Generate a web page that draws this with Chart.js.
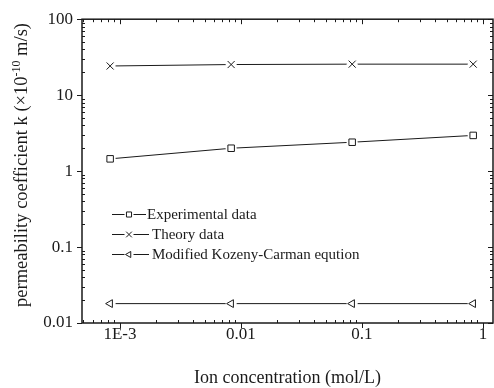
<!DOCTYPE html>
<html>
<head>
<meta charset="utf-8">
<script src="https://cdn.jsdelivr.net/npm/chart.js@4.4.1/dist/chart.umd.min.js"></script>
<style>
  html, body { margin: 0; padding: 0; background: #fff; }
  #wrap { width: 494px; height: 388px; position: relative; }
</style>
</head>
<body>
<div id="wrap"><canvas id="chart" width="494" height="388"></canvas></div>
<script>
// ion concentration (mol/L) and permeability coefficient k (x1e-10 m/s)
const concentration = [0.00083, 0.0083, 0.083, 0.83];
const experimental = [1.45, 2.0, 2.4, 2.95];
const theory = [24.2, 25.3, 25.6, 25.6];
const kozenyCarman = [0.018, 0.018, 0.018, 0.018];

const xTickValues = [0.001, 0.01, 0.1, 1];
const xTickLabels = ['1E-3', '0.01', '0.1', '1'];
const yTickValues = [0.01, 0.1, 1, 10, 100];
const yTickLabels = ['0.01', '0.1', '1', '10', '100'];

const seriesNames = ['Experimental data', 'Theory data', 'Modified Kozeny-Carman eqution'];

const INK = '#1a1a1a';
const SERIF = '"Liberation Serif", "Times New Roman", serif';

const series = [
    { name: seriesNames[0], values: experimental, style: 'rect', radius: 4.6, rotation: 0 },
    { name: seriesNames[1], values: theory, style: 'crossRot', radius: 5, rotation: 0 },
    { name: seriesNames[2], values: kozenyCarman, style: 'triangle', radius: 4.5, rotation: -90 }
];

const toPoints = values => concentration.map((c, i) => ({ x: c, y: values[i] }));

// each series: plain line, white halo to open a gap round the marker, then the marker
const datasets = [];
series.forEach(s => {
    datasets.push({
        data: toPoints(s.values), borderColor: INK, borderWidth: 1,
        pointRadius: 0, tension: 0, order: 3
    });
    datasets.push({
        data: toPoints(s.values), showLine: false, pointStyle: 'circle',
        pointRadius: 5.5, pointBackgroundColor: '#fff', pointBorderWidth: 0, order: 2
    });
    datasets.push({
        data: toPoints(s.values), showLine: false, pointStyle: s.style,
        pointRadius: s.radius, pointRotation: s.rotation,
        pointBackgroundColor: '#fff', pointBorderColor: INK, pointBorderWidth: 1, order: 1
    });
});

function minorValues(scale) {
    const out = [];
    const lo = Math.floor(Math.log10(scale.min));
    const hi = Math.ceil(Math.log10(scale.max));
    for (let e = lo; e <= hi; e++) {
        for (let k = 2; k <= 9; k++) {
            const v = k * Math.pow(10, e);
            if (v > scale.min && v < scale.max) out.push(v);
        }
    }
    return out;
}

const crisp = p => Math.round(p) + 0.5;

// boxed frame with Origin-style ticks, rotated y title with superscript, legend
const decorations = {
    id: 'decorations',
    afterDraw(chart) {
        const { ctx, chartArea: a, scales: { x, y } } = chart;
        ctx.save();
        ctx.strokeStyle = INK;
        ctx.lineWidth = 1;

        const major = 5, minor = 3;
        ctx.beginPath();
        xTickValues.forEach(v => {
            const px = crisp(x.getPixelForValue(v));
            ctx.moveTo(px, a.bottom); ctx.lineTo(px, a.bottom + major);
            ctx.moveTo(px, a.top); ctx.lineTo(px, a.top + major);
        });
        minorValues(x).forEach(v => {
            const px = crisp(x.getPixelForValue(v));
            ctx.moveTo(px, a.bottom); ctx.lineTo(px, a.bottom - minor);
            ctx.moveTo(px, a.top); ctx.lineTo(px, a.top + minor);
        });
        yTickValues.forEach(v => {
            const py = crisp(y.getPixelForValue(v));
            ctx.moveTo(a.left, py); ctx.lineTo(a.left - major, py);
            ctx.moveTo(a.right, py); ctx.lineTo(a.right - major, py);
        });
        minorValues(y).forEach(v => {
            const py = crisp(y.getPixelForValue(v));
            ctx.moveTo(a.left, py); ctx.lineTo(a.left + minor, py);
            ctx.moveTo(a.right, py); ctx.lineTo(a.right - minor, py);
        });
        ctx.stroke();

        ctx.lineWidth = 1.5;
        ctx.strokeRect(a.left, a.top, a.right - a.left, a.bottom - a.top);

        // y axis title
        ctx.fillStyle = INK;
        const partA = 'permeability coefficient k (\u00d710';
        const sup = '-10';
        const partB = ' m/s)';
        const mainFont = '18.5px ' + SERIF, supFont = '12px ' + SERIF;
        ctx.font = mainFont;
        const wA = ctx.measureText(partA).width, wB = ctx.measureText(partB).width;
        ctx.font = supFont;
        const wS = ctx.measureText(sup).width;
        const total = wA + wS + wB;
        ctx.save();
        ctx.translate(27, 165);
        ctx.rotate(-Math.PI / 2);
        ctx.textBaseline = 'alphabetic';
        ctx.textAlign = 'left';
        let cx = -total / 2;
        ctx.font = mainFont; ctx.fillText(partA, cx, 0); cx += wA;
        ctx.font = supFont; ctx.fillText(sup, cx, -7); cx += wS;
        ctx.font = mainFont; ctx.fillText(partB, cx, 0);
        ctx.restore();

        // legend
        const rowsY = [214, 234, 254];
        const lineEnd = [146, 149, 149];
        const textX = [147, 152, 152];
        ctx.font = '15px ' + SERIF;
        ctx.textBaseline = 'middle';
        ctx.lineWidth = 1;
        series.forEach((s, i) => {
            const ly = crisp(rowsY[i]);
            const mx = 129;
            ctx.beginPath();
            ctx.moveTo(112, ly); ctx.lineTo(mx - 4.5, ly);
            ctx.moveTo(mx + 4.5, ly); ctx.lineTo(lineEnd[i], ly);
            ctx.stroke();
            ctx.fillStyle = '#fff';
            Chart.helpers.drawPoint(ctx, {
                pointStyle: s.style, radius: s.radius - 1, rotation: s.rotation, borderWidth: 1
            }, mx, ly);
            ctx.fillStyle = INK;
            ctx.fillText(s.name, textX[i], rowsY[i] + 1);
        });
        ctx.restore();
    }
};

new Chart(document.getElementById('chart'), {
    type: 'line',
    data: { datasets },
    options: {
        responsive: false,
        animation: false,
        layout: { autoPadding: false, padding: { top: 18, right: 1, left: 0, bottom: 0 } },
        plugins: { legend: { display: false }, tooltip: { enabled: false } },
        scales: {
            x: {
                type: 'logarithmic',
                min: 0.000486,
                max: 1.21,
                afterBuildTicks: s => { s.ticks = xTickValues.map(v => ({ value: v })); },
                afterFit: s => { s.height = 65; s.paddingLeft = 0; s.paddingRight = 0; },
                grid: { display: false, drawTicks: false },
                border: { display: false },
                ticks: {
                    callback: (v, i) => xTickLabels[i],
                    font: { family: SERIF, size: 17 },
                    color: INK, padding: 1, maxRotation: 0, autoSkip: false
                },
                title: {
                    display: true, text: 'Ion concentration (mol/L)',
                    font: { family: SERIF, size: 18 }, color: INK,
                    padding: { top: 0, bottom: -1 }
                }
            },
            y: {
                type: 'logarithmic',
                min: 0.01,
                max: 100,
                afterBuildTicks: s => { s.ticks = yTickValues.map(v => ({ value: v })); },
                afterFit: s => { s.width = 82; },
                grid: { display: false, drawTicks: false },
                border: { display: false },
                ticks: {
                    callback: (v, i) => yTickLabels[i],
                    font: { family: SERIF, size: 17 },
                    color: INK, padding: 9, autoSkip: false
                }
            }
        }
    },
    plugins: [decorations]
});
</script>
</body>
</html>
